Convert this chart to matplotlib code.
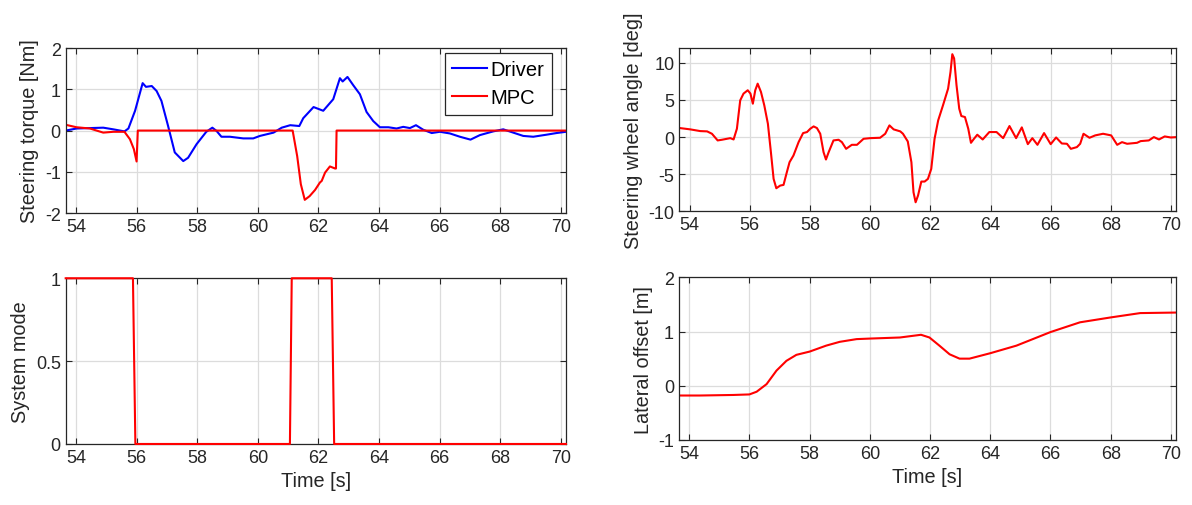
import numpy as np
import matplotlib
matplotlib.use("Agg")
import matplotlib.pyplot as plt

plt.rcParams["font.family"] = ["Liberation Sans", "DejaVu Sans"]
plt.rcParams["axes.unicode_minus"] = False

# steering torque [Nm]
t_driver = [53.66, 54.02, 54.9, 55.23, 55.6, 55.73, 55.95, 56.2, 56.31, 56.5, 56.66,
            56.82, 57.04, 57.26, 57.54, 57.7, 57.98, 58.3, 58.5, 58.64, 58.8, 59.08,
            59.52, 59.85, 60.07, 60.52, 60.79, 61.07, 61.37, 61.5, 61.84, 62.16,
            62.49, 62.71, 62.8, 62.96, 63.15, 63.37, 63.59, 63.81, 64.03, 64.31,
            64.58, 64.8, 65.02, 65.22, 65.46, 65.74, 66.01, 66.34, 66.67, 67.02,
            67.33, 67.77, 68.1, 68.43, 68.76, 69.09, 69.53, 69.86, 70.17]
driver_torque = [0.0, 0.05, 0.07, 0.03, -0.02, 0.05, 0.48, 1.15, 1.06, 1.08, 0.96,
                 0.72, 0.11, -0.53, -0.74, -0.66, -0.33, -0.03, 0.07, -0.01, -0.15, -0.15,
                 -0.19, -0.19, -0.13, -0.05, 0.07, 0.13, 0.11, 0.3, 0.57, 0.48,
                 0.76, 1.27, 1.19, 1.3, 1.1, 0.88, 0.45, 0.23, 0.08, 0.08,
                 0.05, 0.09, 0.06, 0.13, 0.02, -0.06, -0.03, -0.07, -0.15, -0.22,
                 -0.11, -0.02, 0.03, -0.05, -0.13, -0.15, -0.1, -0.06, -0.03]

t_mpc = [53.66, 54.02, 54.46, 54.9, 55.23, 55.6, 55.78, 55.91, 56.0, 56.04, 61.15,
         61.3, 61.42, 61.55, 61.71, 61.89, 62.05, 62.11, 62.22, 62.38, 62.55, 62.58,
         62.6, 70.17]
mpc_torque = [0.14, 0.08, 0.05, -0.05, -0.03, -0.03, -0.21, -0.45, -0.75, 0.0, 0.0,
              -0.62, -1.3, -1.68, -1.59, -1.44, -1.26, -1.22, -1.02, -0.87, -0.92, -0.92,
              0.0, 0.0]

# system mode
t_mode = [53.66, 55.88, 55.96, 61.06, 61.12, 62.44, 62.52, 70.17]
system_mode = [1, 1, 0, 0, 1, 1, 0, 0]

# steering wheel angle [deg]
t_swa = [53.67, 54.02, 54.35, 54.58, 54.74, 54.93, 55.07, 55.35, 55.46, 55.57, 55.68,
         55.79, 55.93, 56.02, 56.1, 56.18, 56.26, 56.37, 56.48, 56.6, 56.7, 56.79,
         56.88, 57.01, 57.12, 57.23, 57.32, 57.45, 57.62, 57.77, 57.9, 58.01, 58.12,
         58.23, 58.34, 58.45, 58.53, 58.62, 58.78, 58.95, 59.06, 59.2, 59.39, 59.56,
         59.78, 60.0, 60.33, 60.5, 60.64, 60.78, 61.0, 61.09, 61.25, 61.37, 61.44,
         61.51, 61.59, 61.7, 61.81, 61.92, 62.03, 62.14, 62.26, 62.42, 62.59, 62.67,
         62.73, 62.79, 62.87, 62.96, 63.03, 63.15, 63.26, 63.35, 63.45, 63.56, 63.74,
         63.96, 64.2, 64.42, 64.63, 64.85, 65.04, 65.24, 65.39, 65.56, 65.78, 66.0,
         66.18, 66.37, 66.54, 66.67, 66.87, 66.98, 67.09, 67.29, 67.48, 67.74, 68.01,
         68.21, 68.37, 68.54, 68.87, 68.99, 69.26, 69.43, 69.6, 69.79, 69.99, 70.19]
swa = [1.22, 1.04, 0.81, 0.77, 0.45, -0.45, -0.36, -0.14, -0.32, 1.13, 4.95,
       5.86, 6.31, 5.86, 4.5, 6.31, 7.2, 6.08, 4.28, 1.8, -2.03, -5.63,
       -6.89, -6.53, -6.44, -4.73, -3.38, -2.48, -0.68, 0.54, 0.68, 1.13, 1.44,
       1.22, 0.45, -2.03, -3.02, -2.03, -0.45, -0.36, -0.68, -1.58, -1.04, -1.04,
       -0.23, -0.14, -0.09, 0.45, 1.58, 1.04, 0.77, 0.45, -0.59, -3.38, -7.43,
       -8.78, -7.88, -5.99, -5.99, -5.63, -4.28, -0.23, 2.25, 4.28, 6.53, 8.78,
       11.17, 10.6, 6.98, 3.83, 2.84, 2.7, 1.13, -0.77, -0.23, 0.32, -0.32,
       0.68, 0.68, -0.14, 1.49, -0.14, 1.31, -0.95, -0.14, -1.04, 0.54, -0.95,
       -0.05, -0.86, -0.9, -1.58, -1.35, -0.9, 0.45, -0.09, 0.23, 0.45, 0.23,
       -1.04, -0.68, -0.9, -0.77, -0.54, -0.45, 0.0, -0.32, 0.09, -0.05, 0.0]

# lateral offset [m]
t_lat = [53.66, 54.35, 55.46, 56.0, 56.24, 56.57, 56.9, 57.23, 57.56, 58.0, 58.55,
         59.0, 59.56, 60.0, 61.0, 61.7, 61.98, 62.31, 62.65, 62.98, 63.31, 64.0,
         64.87, 66.0, 66.98, 68.0, 68.98, 70.19]
lat_offset = [-0.18, -0.18, -0.17, -0.16, -0.11, 0.03, 0.28, 0.46, 0.57, 0.63, 0.74,
              0.81, 0.86, 0.87, 0.89, 0.94, 0.89, 0.74, 0.58, 0.5, 0.5, 0.6,
              0.74, 0.99, 1.17, 1.26, 1.34, 1.35]

x_ticks = np.arange(54, 71, 2)
dark = "#262626"

fig = plt.figure(figsize=(11.92, 5.06), dpi=100)
ax_tq = fig.add_axes([0.0551, 0.577, 0.4197, 0.326])
ax_sw = fig.add_axes([0.570, 0.5804, 0.4167, 0.3227])
ax_md = fig.add_axes([0.0551, 0.1206, 0.4197, 0.3275])
ax_lo = fig.add_axes([0.5696, 0.1285, 0.417, 0.3215])


def style(ax, ylim, yticks, ylabel, xlabel=None):
    ax.set_xlim(53.66, 70.17)
    ax.set_ylim(*ylim)
    ax.set_xticks(x_ticks)
    ax.set_yticks(yticks)
    ax.grid(True, color="#dcdcdc", linewidth=0.9)
    ax.set_axisbelow(True)
    ax.tick_params(direction="in", top=True, right=True, length=4, width=0.8,
                   colors=dark, labelsize=13, labelcolor=dark)
    for s in ax.spines.values():
        s.set_color(dark)
        s.set_linewidth(0.9)
    ax.set_ylabel(ylabel, fontsize=14.3, color=dark)
    if xlabel:
        ax.set_xlabel(xlabel, fontsize=14.3, color=dark)


ax_tq.plot(t_driver, driver_torque, color="#0000ff", lw=1.5, label="Driver")
ax_tq.plot(t_mpc, mpc_torque, color="#ff0000", lw=1.5, label="MPC")
style(ax_tq, (-2, 2), [-2, -1, 0, 1, 2], "Steering torque [Nm]")
leg = ax_tq.legend(loc="upper right", bbox_to_anchor=(0.9714, 0.968), borderaxespad=0,
                   fontsize=14.5, fancybox=False, framealpha=1, edgecolor=dark,
                   handlelength=1.7, handletextpad=0.2, borderpad=0.35, labelspacing=0.45)
leg.get_frame().set_linewidth(0.9)

ax_sw.plot(t_swa, swa, color="#ff0000", lw=1.5)
style(ax_sw, (-10, 12), [-10, -5, 0, 5, 10], "Steering wheel angle [deg]")

ax_md.plot(t_mode, system_mode, color="#ff0000", lw=1.5, clip_on=False, zorder=3)
style(ax_md, (0, 1), [0, 0.5, 1], "System mode", "Time [s]")
ax_md.set_yticklabels(["0", "0.5", "1"])

ax_lo.plot(t_lat, lat_offset, color="#ff0000", lw=1.5)
style(ax_lo, (-1, 2), [-1, 0, 1, 2], "Lateral offset [m]", "Time [s]")

fig.savefig("out.png", dpi=100)
